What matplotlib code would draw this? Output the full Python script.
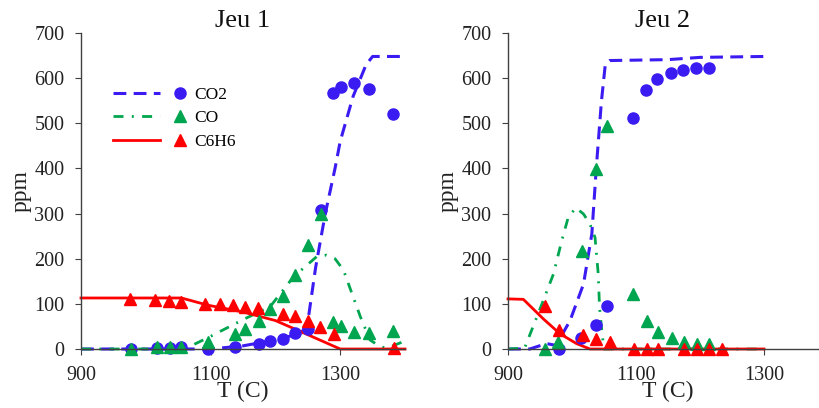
#!/usr/bin/env python3
"""Jeu 1 / Jeu 2: mesures (points) et modele (lignes) de CO2, CO, C6H6 en fonction de T."""

import matplotlib
matplotlib.use("Agg")
import matplotlib.pyplot as plt
from matplotlib.legend_handler import HandlerTuple

# ---- Jeu 1 : mesures ----
j1_co2_T = [977, 1017, 1037, 1054, 1096, 1137, 1174, 1192, 1211, 1230, 1251, 1270, 1289, 1302, 1322, 1345, 1382]
j1_co2 = [0, 3, 3, 5, 0, 5, 12, 17, 22, 35, 45, 308, 568, 580, 590, 575, 520]
j1_co_T = [977, 1017, 1037, 1054, 1096, 1137, 1153, 1174, 1192, 1211, 1230, 1251, 1270, 1289, 1302, 1322, 1345, 1382]
j1_co = [0, 5, 5, 5, 15, 33, 45, 62, 88, 118, 163, 230, 298, 60, 52, 37, 35, 40]
j1_c6h6_T = [975, 1014, 1036, 1054, 1092, 1114, 1134, 1153, 1173, 1211, 1230, 1250, 1269, 1291, 1383]
j1_c6h6 = [110, 108, 107, 105, 100, 100, 97, 92, 90, 77, 72, 62, 48, 33, 2]

# ---- Jeu 1 : modele ----
j1_co2_mod_T = [900, 1100, 1150, 1200, 1240, 1250, 1262, 1277, 1292, 1300, 1320, 1340, 1350, 1400]
j1_co2_mod = [0, 0, 7, 20, 35, 60, 180, 300, 400, 460, 560, 630, 648, 648]
j1_co_mod_T = [900, 1060, 1100, 1150, 1192, 1228, 1264, 1279, 1292, 1305, 1331, 1346, 1362, 1372, 1397]
j1_co_mod = [0, 0, 28, 65, 94, 160, 205, 208, 200, 175, 72, 20, 5, 2, 16]
j1_c6h6_mod_T = [900, 1055, 1096, 1150, 1200, 1240, 1300, 1400]
j1_c6h6_mod = [113, 113, 97, 82, 63, 38, 0, 0]

# ---- Jeu 2 : mesures ----
j2_co2_T = [979, 1014, 1038, 1054, 1095, 1115, 1133, 1154, 1174, 1193, 1214]
j2_co2 = [0, 24, 54, 96, 512, 573, 599, 612, 618, 623, 623]
j2_co_T = [958, 978, 1016, 1038, 1054, 1096, 1117, 1135, 1156, 1175, 1195, 1214]
j2_co = [0, 15, 216, 398, 494, 122, 63, 38, 25, 15, 12, 10]
j2_c6h6_T = [958, 979, 1017, 1038, 1059, 1097, 1117, 1134, 1175, 1195, 1214, 1235]
j2_c6h6 = [96, 41, 30, 23, 15, 0, 0, 0, 0, 0, 0, 0]

# ---- Jeu 2 : modele ----
j2_co2_mod_T = [900, 934, 960, 975, 997, 1018, 1031, 1038, 1046, 1052, 1059, 1150, 1200, 1300]
j2_co2_mod = [0, 0, 12, 8, 63, 144, 255, 402, 549, 630, 639, 641, 646, 648]
j2_co_mod_T = [900, 926, 955, 971, 984, 994, 1006, 1018, 1028, 1036, 1041, 1043, 1047, 1050, 1300]
j2_co_mod = [0, 2, 107, 166, 240, 291, 313, 299, 277, 247, 166, 93, 34, 0, 0]
j2_c6h6_mod_T = [900, 924, 955, 981, 1007, 1028, 1300]
j2_c6h6_mod = [111, 110, 67, 34, 12, 0, 0]

BLUE = "#3a1cf2"
GREEN = "#00a64f"
RED = "#ff0000"
AXIS = "#404040"

plt.rcParams["font.family"] = ["Liberation Serif", "DejaVu Serif"]


def draw_panel(ax, title, title_x, data, legend=False):
    (co2_T, co2, co_T, co, c6_T, c6,
     co2m_T, co2m, com_T, com, c6m_T, c6m) = data

    l_co2, = ax.plot(co2m_T, co2m, color=BLUE, lw=2.2, dashes=(4.2, 2.4), clip_on=False)
    l_co, = ax.plot(com_T, com, color=GREEN, lw=2.0, dashes=(3.6, 3.0, 0.7, 3.0), clip_on=False)
    l_c6, = ax.plot(c6m_T, c6m, color=RED, lw=2.0, clip_on=False)

    m_co2, = ax.plot(co2_T, co2, "o", color=BLUE, ms=8, ls="none", clip_on=False)
    m_co, = ax.plot(co_T, co, "^", color=GREEN, ms=8.5, ls="none", clip_on=False)
    m_c6, = ax.plot(c6_T, c6, "^", color=RED, ms=8.5, ls="none", clip_on=False)

    ax.set_xlim(900, 1400)
    ax.set_ylim(0, 700)
    ax.set_xticks([900, 1100, 1300])
    ax.set_yticks(range(0, 701, 100))
    for side in ("top", "right"):
        ax.spines[side].set_visible(False)
    for side in ("left", "bottom"):
        ax.spines[side].set_color(AXIS)
        ax.spines[side].set_linewidth(1.0)
    ax.tick_params(direction="out", length=4, color=AXIS, labelsize=14.5,
                   labelcolor="#222222")
    ax.tick_params(axis="x", pad=8)
    ax.tick_params(axis="y", pad=8)
    ax.set_xlabel("T (C)", fontsize=17, color="#222222", labelpad=-3)
    ax.set_ylabel("ppm", fontsize=17, color="#222222", labelpad=2)
    ax.set_title(title, fontsize=19, x=title_x, pad=4, color="#111111")

    if legend:
        ax.legend([(l_co2, m_co2), (l_co, m_co), (l_c6, m_c6)], ["CO2", "CO", "C6H6"],
                  handler_map={tuple: HandlerTuple(ndivide=None, pad=-0.2)},
                  loc="upper left", bbox_to_anchor=(0.05, 0.88), frameon=False,
                  fontsize=12.5, handlelength=5.2, handletextpad=-0.49,
                  labelspacing=0.42)


fig = plt.figure(figsize=(8.19, 4.08), dpi=100)
W, H = 819, 408
ax1 = fig.add_axes([81 / W, (H - 349) / H, 324 / W, 316 / H])
ax2 = fig.add_axes([508 / W, (H - 349) / H, 320 / W, 316 / H])

draw_panel(ax1, "Jeu 1", 0.5,
           (j1_co2_T, j1_co2, j1_co_T, j1_co, j1_c6h6_T, j1_c6h6,
            j1_co2_mod_T, j1_co2_mod, j1_co_mod_T, j1_co_mod, j1_c6h6_mod_T, j1_c6h6_mod),
           legend=True)
draw_panel(ax2, "Jeu 2", 0.484,
           (j2_co2_T, j2_co2, j2_co_T, j2_co, j2_c6h6_T, j2_c6h6,
            j2_co2_mod_T, j2_co2_mod, j2_co_mod_T, j2_co_mod, j2_c6h6_mod_T, j2_c6h6_mod))

fig.savefig("out.png", dpi=100)
